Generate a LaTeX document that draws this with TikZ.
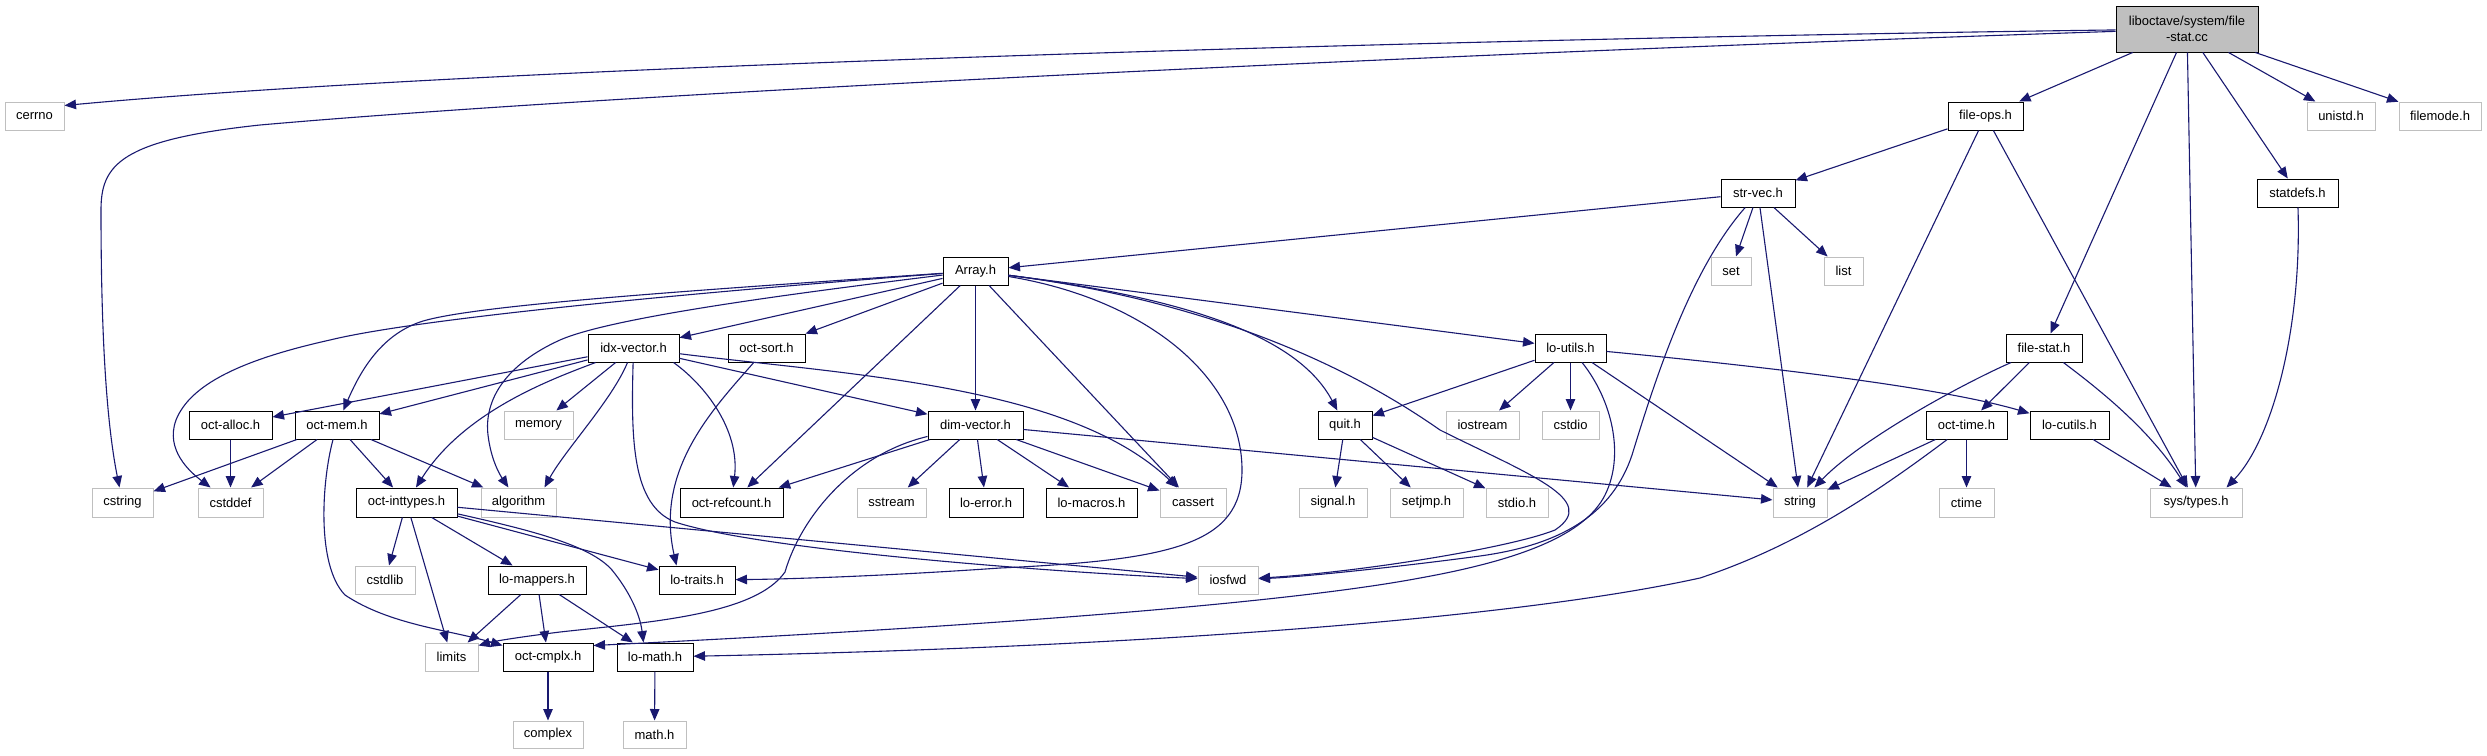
\documentclass[tikz,border=0pt]{standalone}
\usepackage{fontspec}
\setmainfont{Liberation Sans}
\usetikzlibrary{arrows.meta}
\definecolor{edgeblue}{HTML}{191970}
\definecolor{extgray}{HTML}{BFBFBF}
\definecolor{topgray}{HTML}{BFBFBF}
\newcommand{\nodefont}{\fontsize{13}{16.5}\selectfont}
\newcommand{\mknode}[7]{\node[#1, minimum width={#5-#4}, minimum height={#7-#6}] (#2) at ({(#4+#5)/2},{(#6+#7)/2}) {#3};}
\tikzset{
  base/.style={rectangle, inner sep=0pt, line width=1pt, font=\nodefont, align=center},
  doc/.style={base, draw=black, fill=white},
  ext/.style={base, draw=extgray, fill=white},
  topn/.style={base, draw=black, fill=topgray},
  edg/.style={draw=edgeblue, line width=1.1pt, -{Triangle[length=11.5pt,width=9.5pt]}},
}
\begin{document}
\begin{tikzpicture}[x=1pt,y=-1pt]
\fill[white] (0,0) rectangle (2487,755);
\useasboundingbox (0,0) rectangle (2487,755);
% nodes
\mknode{topn}{fsc}{liboctave/system/file\\-stat.cc}{2116}{2258}{6}{52}
\mknode{ext}{cerrno}{cerrno}{5}{64}{102}{130}
\mknode{doc}{fileops}{file-ops.h}{1948}{2023}{102}{130}
\mknode{ext}{unistd}{unistd.h}{2307}{2375}{102}{130}
\mknode{ext}{filemode}{filemode.h}{2399}{2481}{102}{130}
\mknode{doc}{strvec}{str-vec.h}{1721}{1795}{179}{207}
\mknode{doc}{statdefs}{statdefs.h}{2257}{2338}{179}{207}
\mknode{doc}{arrayh}{Array.h}{943}{1008}{257}{285}
\mknode{ext}{seth}{set}{1711}{1751}{257}{285}
\mknode{ext}{listh}{list}{1824}{1863}{257}{285}
\mknode{doc}{idxvec}{idx-vector.h}{588}{679}{334}{362}
\mknode{doc}{octsort}{oct-sort.h}{728}{805}{334}{362}
\mknode{doc}{loutils}{lo-utils.h}{1535}{1606}{334}{362}
\mknode{doc}{filestath}{file-stat.h}{2006}{2082}{334}{362}
\mknode{doc}{octalloc}{oct-alloc.h}{189}{272}{411}{439}
\mknode{doc}{octmem}{oct-mem.h}{295}{379}{411}{439}
\mknode{ext}{memory}{memory}{504}{573}{411}{439}
\mknode{doc}{dimvec}{dim-vector.h}{928}{1023}{411}{439}
\mknode{doc}{quith}{quit.h}{1318}{1372}{411}{439}
\mknode{ext}{iostream}{iostream}{1446}{1519}{411}{439}
\mknode{ext}{cstdio}{cstdio}{1542}{1599}{411}{439}
\mknode{doc}{octtime}{oct-time.h}{1926}{2007}{411}{439}
\mknode{doc}{locutils}{lo-cutils.h}{2030}{2109}{411}{439}
\mknode{ext}{cstring}{cstring}{92}{153}{488}{517}
\mknode{ext}{cstddef}{cstddef}{198}{263}{488}{517}
\mknode{doc}{octint}{oct-inttypes.h}{356}{457}{488}{517}
\mknode{ext}{algorithm}{algorithm}{481}{556}{488}{517}
\mknode{doc}{octref}{oct-refcount.h}{680}{783}{488}{517}
\mknode{ext}{sstream}{sstream}{857}{926}{488}{517}
\mknode{doc}{loerror}{lo-error.h}{949}{1023}{488}{517}
\mknode{doc}{lomacros}{lo-macros.h}{1046}{1137}{488}{517}
\mknode{ext}{cassert}{cassert}{1160}{1226}{488}{517}
\mknode{ext}{signalh}{signal.h}{1299}{1367}{488}{517}
\mknode{ext}{setjmph}{setjmp.h}{1390}{1463}{488}{517}
\mknode{ext}{stdioh}{stdio.h}{1486}{1548}{488}{517}
\mknode{ext}{stringh}{string}{1773}{1827}{488}{517}
\mknode{ext}{ctime}{ctime}{1939}{1994}{488}{517}
\mknode{ext}{systypes}{sys/types.h}{2150}{2242}{488}{517}
\mknode{ext}{cstdlib}{cstdlib}{355}{415}{566}{594}
\mknode{doc}{lomappers}{lo-mappers.h}{488}{586}{566}{594}
\mknode{doc}{lotraits}{lo-traits.h}{659}{735}{566}{594}
\mknode{ext}{iosfwd}{iosfwd}{1198}{1258}{566}{594}
\mknode{ext}{limits}{limits}{425}{478}{643}{671}
\mknode{doc}{octcmplx}{oct-cmplx.h}{503}{593}{643}{671}
\mknode{doc}{lomath}{lo-math.h}{617}{693}{643}{671}
\mknode{ext}{complex}{complex}{513}{583}{721}{748}
\mknode{ext}{mathh}{math.h}{623}{686}{721}{748}
% edges from file-stat.cc
\draw[edg] (fsc) .. controls (1500,38) and (500,65) .. ([yshift=-4pt]cerrno.north east);
\draw[edg] (fsc) .. controls (1400,55) and (600,95) .. (260,125) .. controls (120,140) and (101,165) .. (101,210) .. controls (101,330) and (106,420) .. (cstring);
\draw[edg] (fsc) -- (fileops);
\draw[edg] (fsc) -- (filestath);
\draw[edg] (fsc) -- (systypes);
\draw[edg] (fsc) -- (statdefs);
\draw[edg] (fsc) -- (unistd);
\draw[edg] (fsc) -- (filemode);
% file-ops.h
\draw[edg] (fileops) -- (strvec);
\draw[edg] (fileops) -- (stringh);
\draw[edg] (fileops) -- (systypes);
% str-vec.h
\draw[edg] (strvec) -- (arrayh);
\draw[edg] (strvec) -- (seth);
\draw[edg] (strvec) -- (listh);
\draw[edg] (strvec) -- (stringh);
\draw[edg] (strvec) .. controls (1690,270) and (1655,380) .. (1632,455) .. controls (1612,515) and (1560,545) .. (1480,556) .. controls (1390,568) and (1300,577) .. (iosfwd);
% statdefs.h
\draw[edg] (statdefs) .. controls (2302,330) and (2272,440) .. ([xshift=-16pt]systypes.north east);
% file-stat.h
\draw[edg] (filestath) -- (octtime);
\draw[edg] (filestath) .. controls (1960,385) and (1860,440) .. (stringh);
\draw[edg] (filestath) .. controls (2100,390) and (2150,430) .. (systypes);
% oct-time.h, lo-cutils.h
\draw[edg] (octtime) -- (ctime);
\draw[edg] (octtime) -- (stringh);
\draw[edg] (octtime) .. controls (1880,490) and (1800,545) .. (1700,578) .. controls (1500,622) and (1100,648) .. (lomath);
\draw[edg] (locutils) -- (systypes);
% lo-utils.h
\draw[edg] (loutils) -- (quith);
\draw[edg] (loutils) -- (iostream);
\draw[edg] (loutils) -- (cstdio);
\draw[edg] (loutils) -- (stringh);
\draw[edg] (loutils) .. controls (1800,370) and (1950,390) .. (locutils);
\draw[edg] (loutils) .. controls (1612,400) and (1625,455) .. (1605,495) .. controls (1585,535) and (1520,560) .. (1420,578) .. controls (1250,610) and (850,633) .. ([yshift=-3pt]octcmplx.north east);
% quit.h
\draw[edg] (quith) -- (signalh);
\draw[edg] (quith) -- (setjmph);
\draw[edg] (quith) -- (stdioh);
% Array.h
\draw[edg] (arrayh) -- (loutils);
\draw[edg] (arrayh) .. controls (1200,300) and (1300,340) .. (quith);
\draw[edg] (arrayh) .. controls (1200,300) and (1340,360) .. (1440,430) .. controls (1530,475) and (1600,500) .. (1555,530) .. controls (1510,548) and (1360,572) .. (iosfwd);
\draw[edg] (arrayh) .. controls (1150,300) and (1242,380) .. (1242,470) .. controls (1242,545) and (1170,560) .. (1000,568) .. controls (900,575) and (800,579) .. (lotraits);
\draw[edg] (arrayh) -- (cassert);
\draw[edg] (arrayh) -- (dimvec);
\draw[edg] (arrayh) -- (octref);
\draw[edg] (arrayh) -- (octsort);
\draw[edg] (arrayh) -- (idxvec);
\draw[edg] (arrayh) .. controls (700,290) and (470,305) .. (420,322) .. controls (380,336) and (360,372) .. (octmem);
\draw[edg] (arrayh) .. controls (700,292) and (420,318) .. (330,340) .. controls (240,360) and (190,385) .. (176,420) .. controls (165,450) and (190,472) .. (cstddef);
\draw[edg] (arrayh) .. controls (780,295) and (610,318) .. (560,340) .. controls (505,365) and (484,400) .. (488,435) .. controls (491,460) and (500,475) .. (algorithm);
% idx-vector.h
\draw[edg] (idxvec) -- (octalloc);
\draw[edg] (idxvec) -- (octmem);
\draw[edg] (idxvec) .. controls (555,378) and (465,410) .. (octint);
\draw[edg] (idxvec) -- (memory);
\draw[edg] (idxvec) .. controls (612,400) and (565,450) .. ([xshift=-12pt]algorithm.north east);
\draw[edg] (idxvec) .. controls (631,440) and (632,505) .. (675,522) .. controls (760,550) and (1050,572) .. (iosfwd);
\draw[edg] ([xshift=-6pt]idxvec.south east) .. controls (705,385) and (740,430) .. (octref);
\draw[edg] (idxvec) -- (dimvec);
\draw[edg] (idxvec) .. controls (850,375) and (1070,385) .. (cassert);
% oct-sort.h
\draw[edg] (octsort) .. controls (712,410) and (655,470) .. ([xshift=18pt]lotraits.north west);
% dim-vector.h
\draw[edg] (dimvec) -- (octref);
\draw[edg] (dimvec) .. controls (850,455) and (800,520) .. (785,572) .. controls (755,615) and (650,622) .. (560,632) .. controls (520,637) and (495,641) .. ([yshift=-3pt]limits.north east);
\draw[edg] (dimvec) -- (sstream);
\draw[edg] (dimvec) -- (loerror);
\draw[edg] (dimvec) -- (lomacros);
\draw[edg] (dimvec) -- (cassert);
\draw[edg] (dimvec) -- (stringh);
% oct-mem.h, oct-alloc.h
\draw[edg] (octmem) -- (cstring);
\draw[edg] (octmem) -- (cstddef);
\draw[edg] (octmem) -- (octint);
\draw[edg] (octmem) -- (algorithm);
\draw[edg] (octmem) .. controls (322,480) and (316,565) .. (345,595) .. controls (390,625) and (450,630) .. ([yshift=-3pt]octcmplx.north west);
\draw[edg] (octalloc) -- (cstddef);
% oct-inttypes.h
\draw[edg] (octint) -- (cstdlib);
\draw[edg] (octint) -- (limits);
\draw[edg] (octint) -- (lomappers);
\draw[edg] (octint) -- (iosfwd);
\draw[edg] (octint) -- (lotraits);
\draw[edg] (octint) .. controls (530,530) and (590,545) .. (612,570) .. controls (630,592) and (640,615) .. ([xshift=27pt]lomath.north west);
% lo-mappers.h
\draw[edg] (lomappers) -- (limits);
\draw[edg] (lomappers) -- (octcmplx);
\draw[edg] (lomappers) -- (lomath);
% leaves
\draw[edg] (octcmplx) -- (complex);
\draw[edg] (lomath) -- (mathh);
\end{tikzpicture}
\end{document}
